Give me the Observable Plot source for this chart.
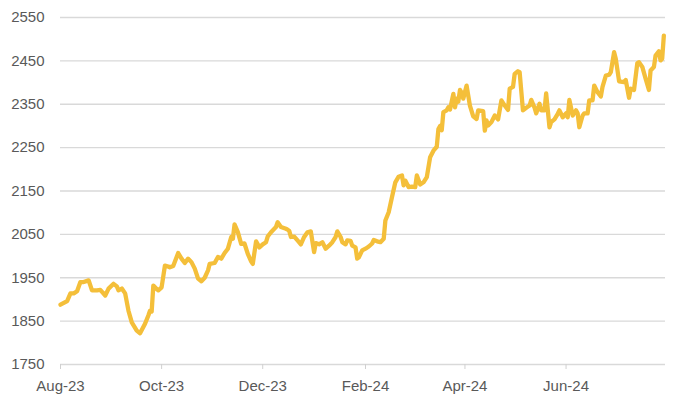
<!DOCTYPE html>
<html>
<head>
<meta charset="utf-8">
<script src="https://cdn.jsdelivr.net/npm/d3@7"></script>
<script src="https://cdn.jsdelivr.net/npm/@observablehq/plot@0.6"></script>
<style>
  html, body { margin: 0; padding: 0; background: #ffffff; }
  #chart svg { display: block; }
</style>
</head>
<body>
<div id="chart"></div>
<script>
const dates = [
  "2023-08-01","2023-08-05","2023-08-07","2023-08-09","2023-08-11","2023-08-13","2023-08-15","2023-08-18","2023-08-20","2023-08-23",
  "2023-08-25","2023-08-28","2023-08-30","2023-09-02","2023-09-04","2023-09-05","2023-09-07","2023-09-09","2023-09-11","2023-09-13",
  "2023-09-16","2023-09-18","2023-09-21","2023-09-23","2023-09-24","2023-09-25","2023-09-26","2023-09-28","2023-09-29","2023-10-01",
  "2023-10-03","2023-10-05","2023-10-06","2023-10-08","2023-10-11","2023-10-13","2023-10-15","2023-10-17","2023-10-19","2023-10-21",
  "2023-10-23","2023-10-25","2023-10-27","2023-10-29","2023-10-30","2023-11-02","2023-11-04","2023-11-06","2023-11-08","2023-11-10",
  "2023-11-12","2023-11-13","2023-11-14","2023-11-16","2023-11-18","2023-11-20","2023-11-22","2023-11-24","2023-11-25","2023-11-27",
  "2023-11-29","2023-12-01","2023-12-03","2023-12-04","2023-12-06","2023-12-09","2023-12-10","2023-12-12","2023-12-15","2023-12-16",
  "2023-12-17","2023-12-18","2023-12-20","2023-12-22","2023-12-24","2023-12-26","2023-12-28","2023-12-30","2024-01-01","2024-01-02",
  "2024-01-04","2024-01-06","2024-01-08","2024-01-10","2024-01-12","2024-01-14","2024-01-15","2024-01-17","2024-01-18","2024-01-20",
  "2024-01-21","2024-01-23","2024-01-24","2024-01-26","2024-01-27","2024-01-28","2024-01-30","2024-02-01","2024-02-03","2024-02-05",
  "2024-02-06","2024-02-08","2024-02-10","2024-02-12","2024-02-13","2024-02-15","2024-02-17","2024-02-19","2024-02-21","2024-02-23",
  "2024-02-24","2024-02-25","2024-02-27","2024-02-29","2024-03-02","2024-03-03","2024-03-05","2024-03-07","2024-03-09","2024-03-11",
  "2024-03-13","2024-03-15","2024-03-16","2024-03-17","2024-03-18","2024-03-19","2024-03-21","2024-03-22","2024-03-23","2024-03-25",
  "2024-03-26","2024-03-27","2024-03-28","2024-03-29","2024-03-30","2024-03-31","2024-04-02","2024-04-04","2024-04-06","2024-04-08",
  "2024-04-09","2024-04-12","2024-04-13","2024-04-14","2024-04-15","2024-04-17","2024-04-19","2024-04-21","2024-04-23","2024-04-25",
  "2024-04-27","2024-04-28","2024-04-30","2024-05-01","2024-05-03","2024-05-04","2024-05-06","2024-05-08","2024-05-10","2024-05-11",
  "2024-05-13","2024-05-14","2024-05-16","2024-05-17","2024-05-19","2024-05-20","2024-05-22","2024-05-23","2024-05-25","2024-05-27",
  "2024-05-28","2024-05-30","2024-06-01","2024-06-02","2024-06-03","2024-06-05","2024-06-07","2024-06-08","2024-06-09","2024-06-11",
  "2024-06-12","2024-06-14","2024-06-15","2024-06-17","2024-06-18","2024-06-20","2024-06-22","2024-06-23","2024-06-25","2024-06-27",
  "2024-06-28","2024-06-30","2024-07-01","2024-07-03","2024-07-06","2024-07-07","2024-07-09","2024-07-10","2024-07-12","2024-07-14",
  "2024-07-15","2024-07-17","2024-07-19","2024-07-21","2024-07-22","2024-07-24","2024-07-25","2024-07-27","2024-07-28","2024-07-29",
  "2024-07-30"
];
const prices = [
  1888,1896,1914,1914,1919,1940,1940,1944,1921,1921,
  1922,1909,1925,1936,1930,1921,1925,1914,1874,1847,
  1828,1822,1844,1863,1874,1872,1932,1924,1921,1928,
  1978,1976,1974,1977,2007,1994,1984,1994,1986,1971,
  1948,1942,1950,1967,1982,1984,1998,1994,2007,2017,
  2044,2040,2073,2055,2028,2029,2005,1988,1982,2034,
  2020,2027,2032,2045,2055,2067,2078,2067,2063,2061,
  2058,2044,2045,2036,2027,2044,2055,2057,2009,2030,
  2027,2032,2017,2024,2032,2044,2057,2044,2032,2027,
  2036,2035,2024,2020,1994,1997,2013,2017,2022,2029,
  2037,2034,2032,2040,2082,2101,2136,2170,2183,2186,
  2163,2174,2159,2160,2159,2186,2165,2170,2182,2228,
  2243,2252,2293,2300,2290,2332,2336,2343,2338,2374,
  2343,2363,2356,2383,2377,2363,2393,2347,2322,2316,
  2336,2334,2289,2313,2301,2309,2324,2315,2359,2347,
  2337,2386,2390,2420,2426,2424,2336,2342,2347,2360,
  2342,2329,2351,2336,2336,2375,2297,2309,2315,2328,
  2336,2320,2329,2320,2360,2324,2336,2329,2297,2324,
  2329,2329,2359,2359,2393,2378,2368,2390,2416,2418,
  2424,2470,2455,2403,2401,2406,2365,2386,2383,2445,
  2447,2436,2409,2383,2428,2436,2462,2472,2451,2455,
  2508
];
const yTicks = [1750, 1850, 1950, 2050, 2150, 2250, 2350, 2450, 2550];
const xTickDates = ["2023-08-01","2023-10-01","2023-12-01","2024-02-01","2024-04-01","2024-06-01"];
const xTickLabels = ["Aug-23","Oct-23","Dec-23","Feb-24","Apr-24","Jun-24"];
const xDomain = ["2023-08-01", "2024-07-31"];

const parse = d3.utcParse("%Y-%m-%d");
const data = dates.map((d, i) => ({date: parse(d), price: prices[i]}));
const tickDates = xTickDates.map(parse);
const labelFor = new Map(tickDates.map((d, i) => [+d, xTickLabels[i]]));

const chart = Plot.plot({
  width: 675,
  height: 406,
  marginLeft: 60,
  marginRight: 10,
  marginTop: 17,
  marginBottom: 42,
  style: {fontFamily: "'Liberation Sans', Arial, sans-serif", fontSize: "15px", background: "#ffffff"},
  x: {type: "utc", domain: xDomain.map(parse), label: null},
  y: {domain: [1750, 2550], label: null},
  marks: [
    Plot.gridY(yTicks, {stroke: "#d9d9d9", strokeOpacity: 1, strokeWidth: 1.3}),
    Plot.axisY(yTicks, {tickSize: 0, tickPadding: 16, fill: "#595959", fontSize: 15, label: null, tickFormat: d => String(d)}),
    Plot.axisX(tickDates, {
      tickSize: 5, tickPadding: 11, stroke: "#d0d0d0", fill: "#595959", fontSize: 15, label: null,
      tickFormat: d => labelFor.get(+d)
    }),
    Plot.lineY(data, {x: "date", y: "price", stroke: "#F4BF3A", strokeWidth: 4.3, strokeLinejoin: "round", strokeLinecap: "round"})
  ]
});
document.getElementById("chart").appendChild(chart);
</script>
</body>
</html>
